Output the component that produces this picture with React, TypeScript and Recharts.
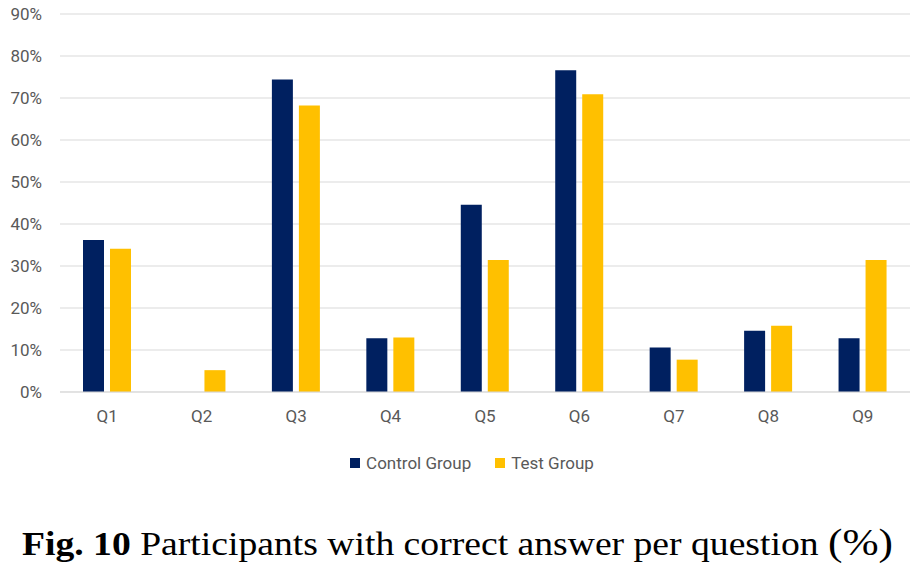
import { Bar, BarChart, CartesianGrid, XAxis, YAxis } from "recharts";

// Share of participants answering each question correctly (%).
const QUESTIONS = ["Q1", "Q2", "Q3", "Q4", "Q5", "Q6", "Q7", "Q8", "Q9"];
const CONTROL = [36.2, 0, 74.4, 12.8, 44.6, 76.6, 10.6, 14.6, 12.8];
const TEST = [34.1, 5.2, 68.2, 13.0, 31.4, 70.9, 7.7, 15.8, 31.4];
const Y_TICKS = [0, 10, 20, 30, 40, 50, 60, 70, 80, 90];

const CONTROL_COLOR = "#002060";
const TEST_COLOR = "#FFC000";
const TEXT_GRAY = "#595959";
const FONT = "Roboto, 'Liberation Sans', sans-serif";

const rows = QUESTIONS.map((q, i) => ({ q, control: CONTROL[i], test: TEST[i] }));

function LegendItem({ color, label }: { color: string; label: string }) {
  return (
    <span style={{ display: "inline-flex", alignItems: "center", margin: "0 12px" }}>
      <span style={{ width: 10, height: 10, background: color, marginRight: 6 }} />
      <span>{label}</span>
    </span>
  );
}

export default function App() {
  const tick = { fontSize: 17, fill: TEXT_GRAY, fontFamily: FONT };
  return (
    <div
      style={{
        position: "absolute",
        left: 0,
        top: 0,
        width: 912,
        height: 570,
        background: "#fff",
        overflow: "hidden",
      }}
    >
      <BarChart
        width={912}
        height={440}
        data={rows}
        margin={{ top: 14, right: 2, left: 0, bottom: 18 }}
        barSize={21}
        barGap={6}
      >
        <CartesianGrid vertical={false} stroke="#d9d9d9" />
        <XAxis
          dataKey="q"
          tick={tick}
          tickLine={false}
          axisLine={{ stroke: "#d9d9d9" }}
          tickMargin={12}
          height={30}
        />
        <YAxis
          domain={[0, 90]}
          ticks={Y_TICKS}
          tickFormatter={(v: number) => `${v}%`}
          tick={tick}
          tickLine={false}
          axisLine={false}
          tickMargin={12}
          width={60}
        />
        <Bar dataKey="control" name="Control Group" fill={CONTROL_COLOR} isAnimationActive={false} />
        <Bar dataKey="test" name="Test Group" fill={TEST_COLOR} isAnimationActive={false} />
      </BarChart>
      <div
        style={{
          position: "absolute",
          top: 451,
          left: 0,
          width: 944,
          textAlign: "center",
          fontFamily: FONT,
          fontSize: 17,
          color: TEXT_GRAY,
          lineHeight: "22px",
        }}
      >
        <LegendItem color={CONTROL_COLOR} label="Control Group" />
        <LegendItem color={TEST_COLOR} label="Test Group" />
      </div>
      <svg
        width={912}
        height={70}
        style={{ position: "absolute", left: 0, top: 500 }}
      >
        <text
          x={22}
          y={55}
          fontFamily="'Liberation Serif', 'Times New Roman', serif"
          fontSize={33}
          fill="#000"
          textLength={871}
          lengthAdjust="spacingAndGlyphs"
        >
          <tspan fontWeight="bold">Fig. 10</tspan>
          <tspan> Participants with correct answer per question </tspan>
          <tspan fontSize={38}>(%)</tspan>
        </text>
      </svg>
    </div>
  );
}
